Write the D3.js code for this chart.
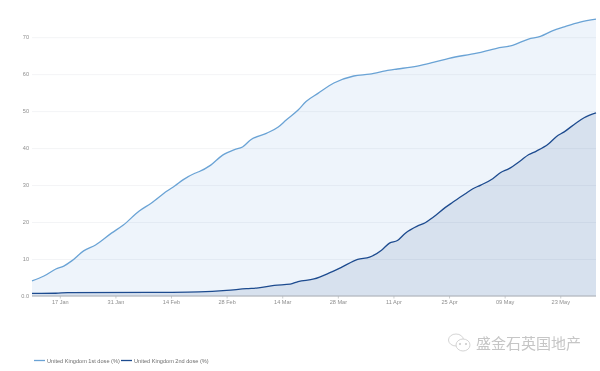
<!DOCTYPE html>
<html>
<head>
<meta charset="utf-8">
<script src="https://cdn.jsdelivr.net/npm/d3@7"></script>
<style>
  html, body { margin: 0; padding: 0; background: #fff; }
  text { font-family: "Liberation Sans", Arial, sans-serif; filter: blur(0.3px); }
</style>
</head>
<body>
<div id="chart"></div>
<script>
// values
const firstDoseDates = ["01-10","01-13","01-16","01-18","01-20","01-23","01-26","01-30","02-02","02-06","02-09","02-13","02-15","02-17","02-20","02-21","02-24","02-27","03-02","03-04","03-06","03-10","03-13","03-15","03-18","03-20","03-23","03-27","04-01","04-05","04-10","04-12","04-17","04-21","04-25","05-02","05-07","05-11","05-15","05-18","05-21","05-24","05-28","06-01"];
const firstDose = [4.1,5.4,7.3,8.1,9.5,12.2,13.8,17,19.2,23,25.1,28.4,29.8,31.4,33.2,33.6,35.4,38.1,39.6,40.3,42.2,44,45.7,47.6,50.3,52.6,54.8,57.6,59.5,60,61.1,61.4,62.2,63.2,64.3,65.7,67,67.8,69.5,70.2,71.7,72.8,74.1,74.9];
const secondDoseDates = ["01-10","01-16","01-19","02-14","02-21","02-28","03-05","03-08","03-12","03-16","03-18","03-22","03-26","03-29","04-02","04-05","04-08","04-10","04-12","04-14","04-17","04-19","04-21","04-24","04-26","04-29","05-01","05-03","05-06","05-08","05-10","05-13","05-15","05-17","05-20","05-22","05-24","05-27","05-29","06-01"];
const secondDose = [0.7,0.75,0.9,1,1.1,1.5,2,2.2,2.9,3.2,3.9,4.6,6.3,7.8,9.9,10.5,12.4,14.3,15,17,18.9,19.8,21.3,23.9,25.4,27.6,29,30,31.7,33.4,34.4,36.6,38.2,39.2,41.1,43.1,44.4,46.8,48.2,49.5];
const xTicks = ["01-17","01-31","02-14","02-28","03-14","03-28","04-11","04-25","05-09","05-23"];
const yTicks = [0,10,20,30,40,50,60,70];
const seriesNames = ["United Kingdom 1st dose (%)","United Kingdom 2nd dose (%)"];
const watermark = "盛金石英国地产";

const width = 600, height = 371;
const parseDay = d3.timeParse("%Y-%m-%d");
const toDate = (s) => parseDay("2021-" + s);

const svg = d3.select("#chart").append("svg")
  .attr("width", width).attr("height", height)
  .style("display", "block");

const x = d3.scaleTime()
  .domain([toDate("01-10"), toDate("06-01")])
  .range([32, 596]);
const y = d3.scaleLinear().domain([0, 76]).range([296, 15]);

const first = firstDose.map((v, i) => ({ date: toDate(firstDoseDates[i]), value: v }));
const second = secondDose.map((v, i) => ({ date: toDate(secondDoseDates[i]), value: v }));

const line = d3.line().x((d) => x(d.date)).y((d) => y(d.value)).curve(d3.curveMonotoneX);
const area = d3.area().x((d) => x(d.date)).y0(y(0)).y1((d) => y(d.value)).curve(d3.curveMonotoneX);

//========== GRID + Y AXIS =============
const yAxis = svg.append("g")
  .attr("transform", "translate(32,0)")
  .call(d3.axisLeft(y).tickValues(yTicks).tickSize(0).tickPadding(3)
    .tickFormat((d) => (d === 0 ? "0.0" : d)));
yAxis.select(".domain").remove();
yAxis.selectAll("text").attr("font-size", 5.6).attr("fill", "#8f8f8f").style("font-family", null);
yAxis.selectAll(".tick line")
  .attr("x2", 564)
  .attr("stroke", "#f3f4f6")
  .attr("stroke-width", 1);

//========== AREAS =============
svg.append("path").datum(first).attr("fill", "#5b8fd8").attr("fill-opacity", 0.1).attr("d", area);
svg.append("path").datum(second).attr("fill", "#0f3f7f").attr("fill-opacity", 0.1).attr("d", area);

svg.append("path").datum(first).attr("fill", "none")
  .attr("stroke", "#6aa3d5").attr("stroke-width", 1.3).attr("d", line);
svg.append("path").datum(second).attr("fill", "none")
  .attr("stroke", "#1d4b8f").attr("stroke-width", 1.3).attr("d", line);

//========== X AXIS =============
const xAxis = svg.append("g")
  .attr("transform", "translate(0,296)")
  .call(d3.axisBottom(x).tickValues(xTicks.map(toDate)).tickSize(2.5).tickPadding(2)
    .tickFormat(d3.timeFormat("%d %b")));
xAxis.select(".domain").attr("stroke", "#a9adb3").attr("stroke-width", 1.2).attr("d", "M32,0H596");
xAxis.selectAll(".tick line").attr("stroke", "#b5b8bc").attr("stroke-width", 0.7);
xAxis.selectAll("text").attr("font-size", 5.6).attr("fill", "#8f8f8f").style("font-family", null);

//========== LEGEND =============
const legendColors = ["#6aa3d5", "#1d4b8f"];
const legend = svg.selectAll(".legend").data(seriesNames).join("g")
  .attr("class", "legend")
  .attr("transform", (d, i) => `translate(${34 + i * 87},360.5)`);
legend.append("line").attr("x2", 11)
  .attr("stroke", (d, i) => legendColors[i]).attr("stroke-width", 1.3);
legend.append("text").attr("x", 13).attr("y", 2)
  .attr("font-size", 5.6).attr("fill", "#6e6e6e").text((d) => d);

//========== WATERMARK =============
const mark = svg.append("g").attr("fill", "#fff").attr("stroke", "#cfcfcf").attr("stroke-width", 0.9);
mark.append("ellipse").attr("cx", 456).attr("cy", 340).attr("rx", 7.5).attr("ry", 6);
mark.append("ellipse").attr("cx", 463).attr("cy", 345).attr("rx", 7).attr("ry", 6);
mark.append("circle").attr("cx", 460).attr("cy", 344).attr("r", 0.7).attr("fill", "#bbb");
mark.append("circle").attr("cx", 466).attr("cy", 344).attr("r", 0.7).attr("fill", "#bbb");
svg.append("text")
  .attr("x", 476).attr("y", 349)
  .attr("font-size", 15)
  .style("font-family", "'Noto Sans CJK SC'")
  .attr("fill", "#c6c6c6")
  .text(watermark);
</script>
</body>
</html>
